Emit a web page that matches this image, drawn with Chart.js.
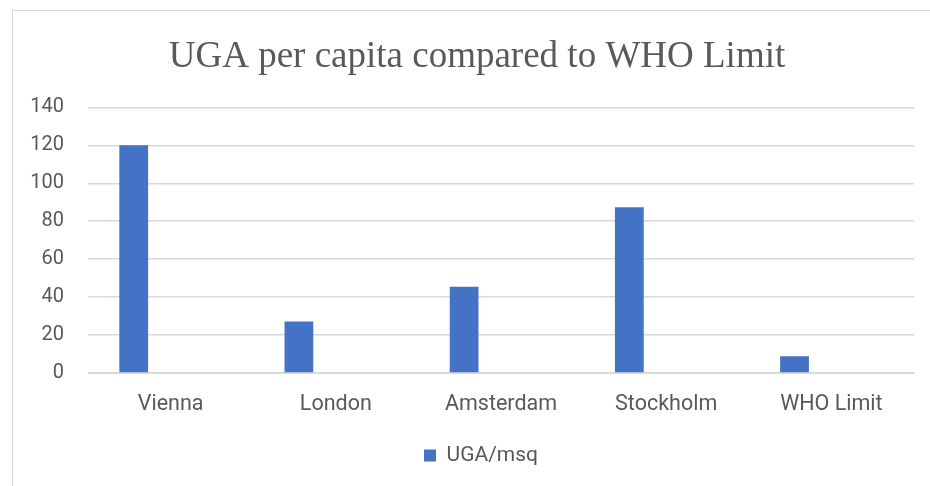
<!DOCTYPE html>
<html>
<head>
<meta charset="utf-8">
<script src="https://cdn.jsdelivr.net/npm/chart.js@4/dist/chart.umd.min.js"></script>
<style>
  html, body { margin: 0; padding: 0; background: #fff; }
  #wrap { position: relative; width: 930px; height: 486px; overflow: hidden; }
  #frame { position: absolute; left: 12px; top: 10px; width: 940px; height: 500px;
           border-left: 1px solid #d9d9d9; border-top: 1px solid #d9d9d9; box-sizing: border-box; }
  canvas { position: absolute; left: 0; top: 0; }
</style>
</head>
<body>
<div id="wrap">
  <div id="frame"></div>
  <canvas id="chart1" width="930" height="486"></canvas>
</div>
<script>
// data
const categories = ["Vienna", "London", "Amsterdam", "Stockholm", "WHO Limit"];
const ugaValues = [120, 27.2, 45.5, 87.4, 8.8];
const blankValues = [null, null, null, null, null]; // second (empty) series in the original sheet
const seriesName = "UGA/msq";
const chartTitle = "UGA per capita compared to WHO Limit";

const grey = "#595959";
const gridGrey = "#d9d9d9";
const sans = "Roboto, 'Liberation Sans', sans-serif";

// title and legend sit a bit right of centre in the original (centred on the plot, not the canvas)
const shiftBoxes = {
    id: 'shiftBoxes',
    afterLayout(chart) {
        if (chart.titleBlock) chart.titleBlock.left += 40;
        if (chart.legend) chart.legend.left += 48;
    }
};

const c1 = document.getElementById("chart1");
const chartObject1 = new Chart(c1, {
    type: 'bar',
    data: {
        labels: categories,
        datasets: [{
            label: seriesName,
            data: ugaValues,
            backgroundColor: "#4472c4",
            borderWidth: 0
        }, {
            label: "",
            data: blankValues,
            backgroundColor: "#ed7d31"
        }]
    },
    options: {
        responsive: false,
        animation: false,
        categoryPercentage: 0.893,
        barPercentage: 0.39,
        layout: {
            padding: { left: 0, right: 16, top: 0, bottom: 10 }
        },
        plugins: {
            title: {
                display: true,
                text: chartTitle,
                color: grey,
                font: { family: "'Liberation Serif', 'Times New Roman', serif", size: 37, weight: 'normal' },
                padding: { top: 35, bottom: 28 }
            },
            legend: {
                position: 'bottom',
                labels: {
                    color: grey,
                    font: { family: sans, size: 21 },
                    boxWidth: 12,
                    boxHeight: 12,
                    padding: 10,
                    filter: item => item.text !== ""
                }
            },
            tooltip: { enabled: false }
        },
        scales: {
            x: {
                grid: { display: false, drawTicks: false },
                border: { color: gridGrey, width: 1 },
                ticks: {
                    color: grey,
                    padding: 19,
                    maxRotation: 0,
                    font: { family: sans, size: 21.5 }
                },
                afterFit: scale => { scale.height = 62; }
            },
            y: {
                min: 0,
                max: 140,
                ticks: {
                    stepSize: 20,
                    color: grey,
                    padding: 24,
                    font: { family: sans, size: 20 }
                },
                grid: { color: gridGrey, lineWidth: 1.5, drawTicks: false },
                border: { display: false },
                afterFit: scale => { scale.width = 88; }
            }
        }
    },
    plugins: [shiftBoxes]
});
</script>
</body>
</html>
